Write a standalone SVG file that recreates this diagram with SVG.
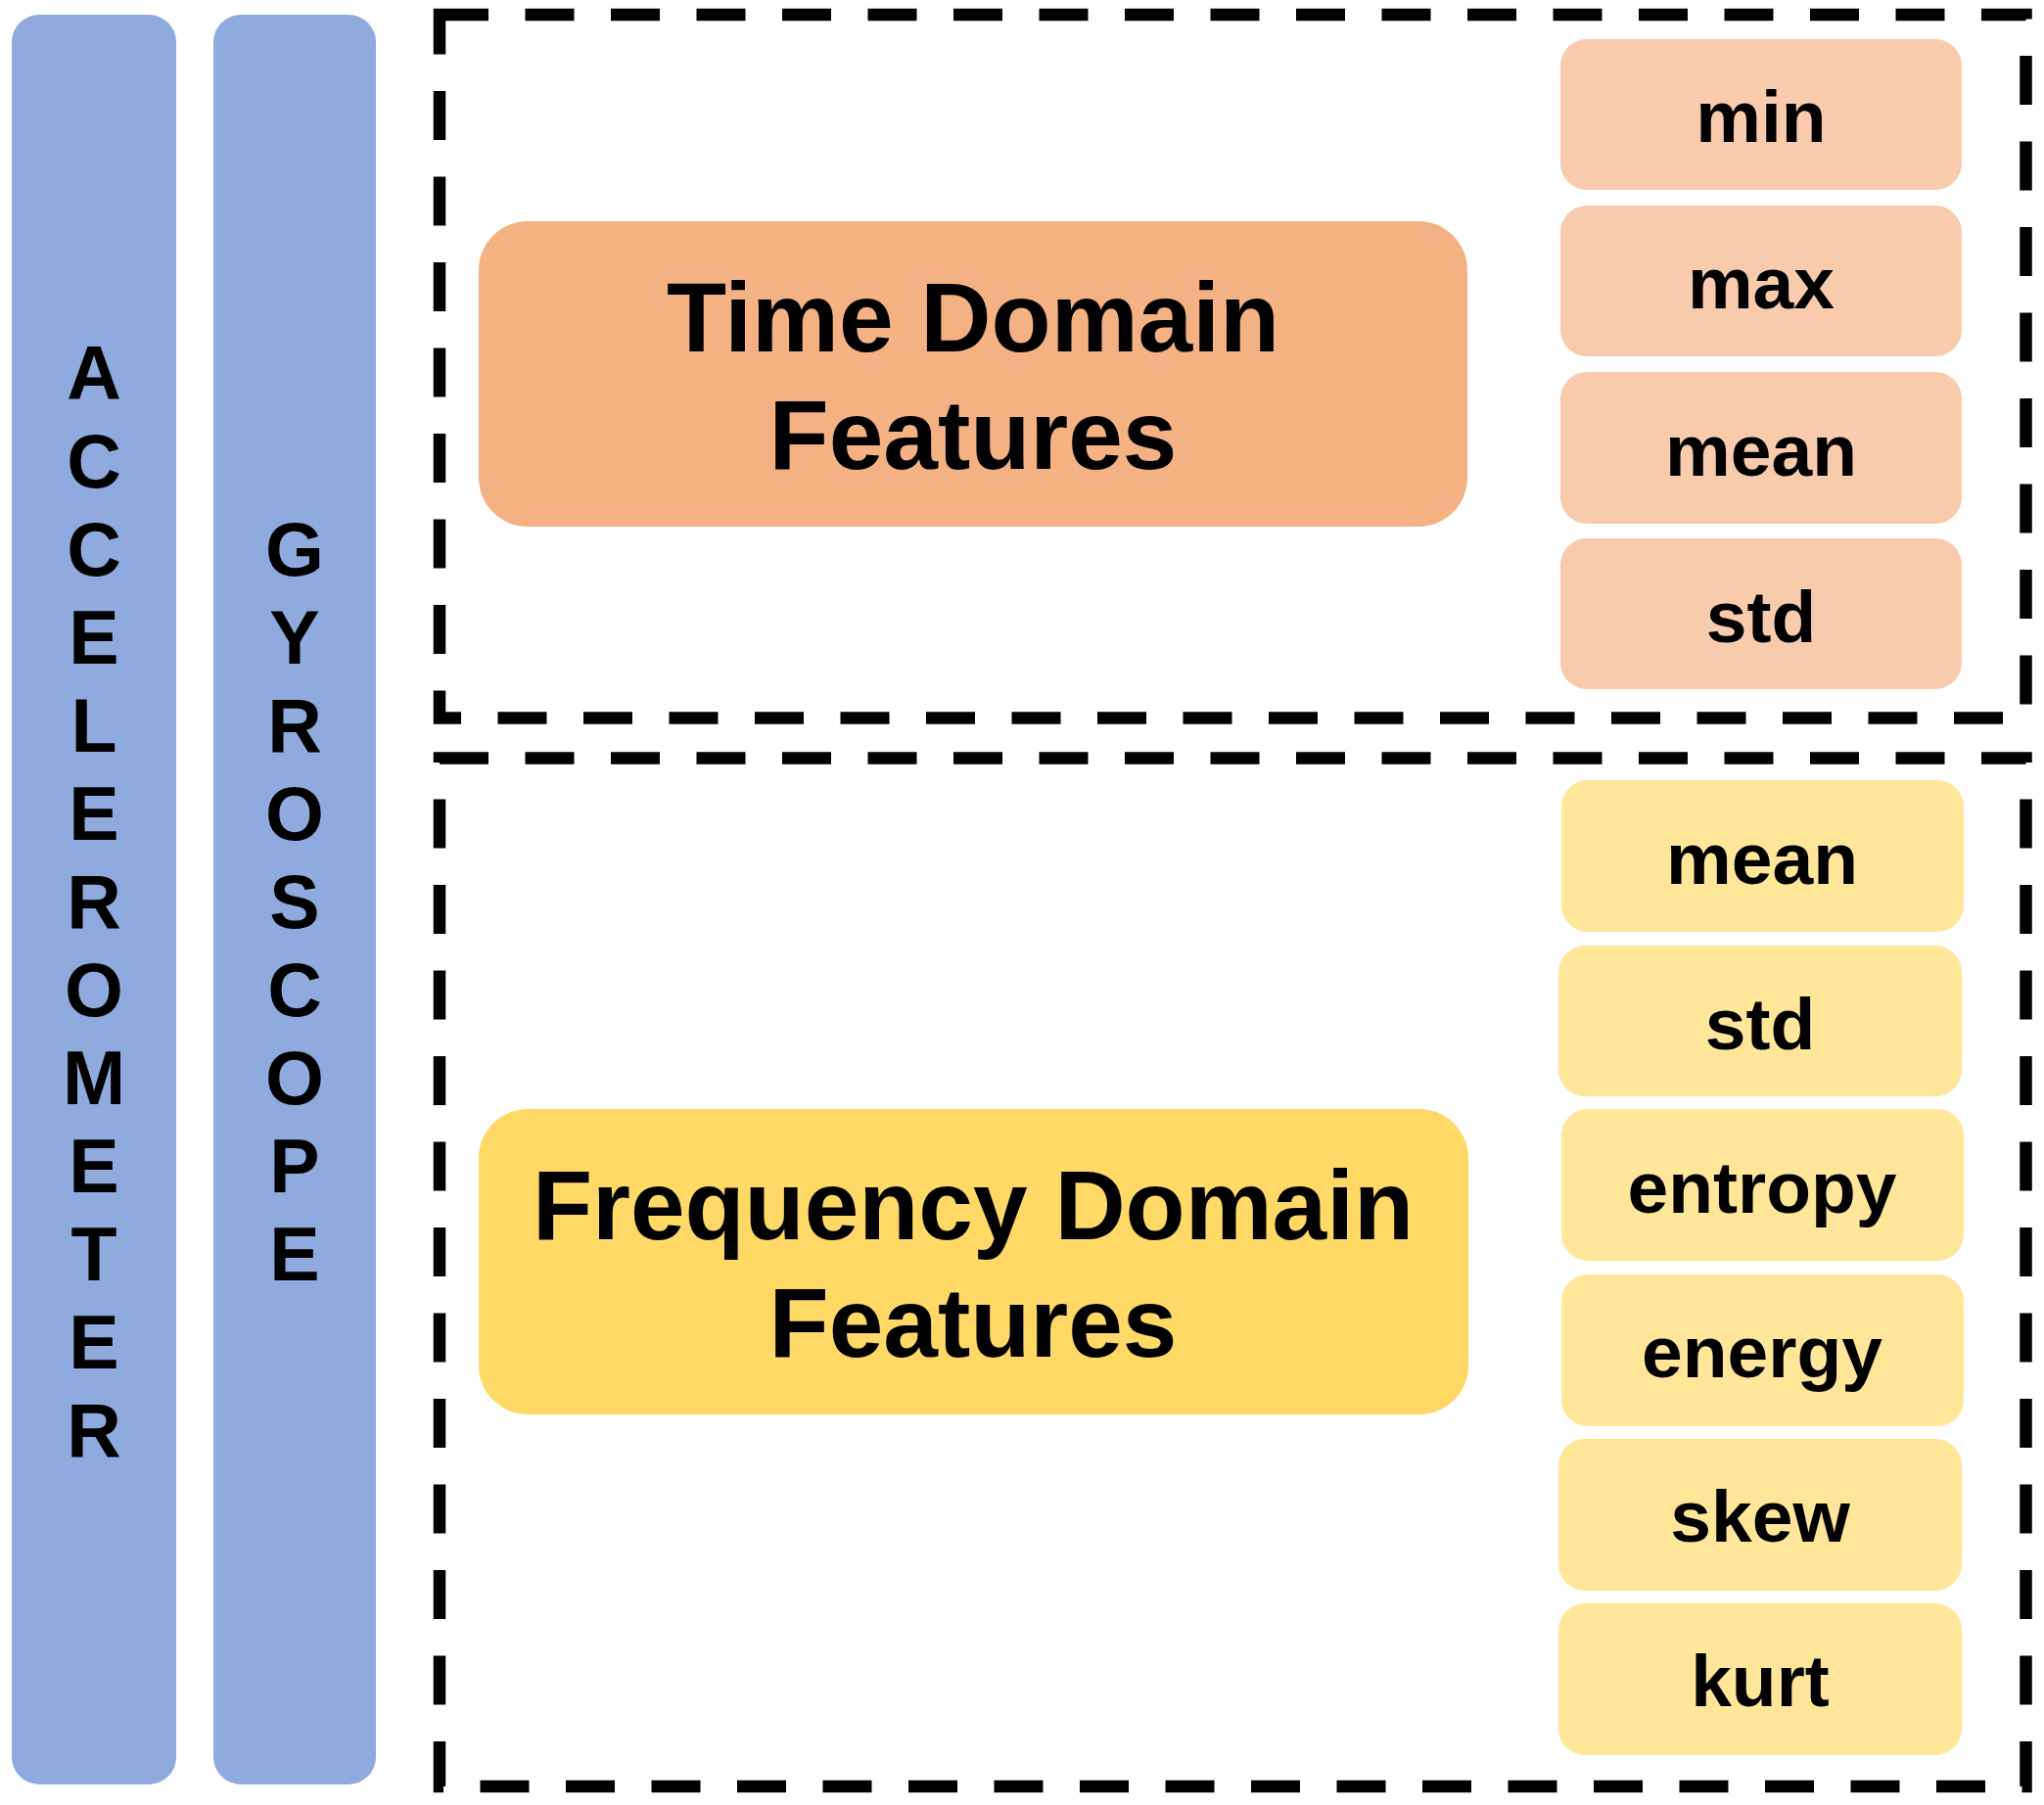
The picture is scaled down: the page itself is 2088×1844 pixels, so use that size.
<svg xmlns="http://www.w3.org/2000/svg" width="2088" height="1844" viewBox="0 0 2088 1844">
  <style>
    .sensor { fill: #8FAADC; }
    .big-time { fill: #F4B183; }
    .small-time { fill: #F8CBAD; }
    .big-freq { fill: #FFD966; }
    .small-freq { fill: #FFE699; }
    .frame { fill: none; stroke: #000000; stroke-width: 12.5; stroke-dasharray: 50 37.5; stroke-linejoin: miter; stroke-linecap: butt; }
    text { font-family: "Liberation Sans", Arial, sans-serif; font-weight: bold; fill: #000000; text-anchor: middle; }
    .vert { font-size: 77px; }
    .big { font-size: 100px; }
    .small { font-size: 75px; }
  </style>
  <rect x="0" y="0" width="2088" height="1844" fill="#FFFFFF"/>

  <g id="accelerometer">
    <rect class="sensor" x="12" y="15" width="168" height="1808" rx="28" ry="28"/>
    <text class="vert" x="96" y="408">A</text>
    <text class="vert" x="96" y="498">C</text>
    <text class="vert" x="96" y="588">C</text>
    <text class="vert" x="96" y="678">E</text>
    <text class="vert" x="96" y="768">L</text>
    <text class="vert" x="96" y="858">E</text>
    <text class="vert" x="96" y="948">R</text>
    <text class="vert" x="96" y="1038">O</text>
    <text class="vert" x="96" y="1128">M</text>
    <text class="vert" x="96" y="1218">E</text>
    <text class="vert" x="96" y="1308">T</text>
    <text class="vert" x="96" y="1398">E</text>
    <text class="vert" x="96" y="1488">R</text>
  </g>

  <g id="gyroscope">
    <rect class="sensor" x="218" y="15" width="166" height="1808" rx="28" ry="28"/>
    <text class="vert" x="301" y="588">G</text>
    <text class="vert" x="301" y="678">Y</text>
    <text class="vert" x="301" y="768">R</text>
    <text class="vert" x="301" y="858">O</text>
    <text class="vert" x="301" y="948">S</text>
    <text class="vert" x="301" y="1038">C</text>
    <text class="vert" x="301" y="1128">O</text>
    <text class="vert" x="301" y="1218">P</text>
    <text class="vert" x="301" y="1308">E</text>
  </g>

  <g id="frames">
    <path id="time-frame" class="frame" d="M449 15 H2069.5 V733.5 H449 Z"/>
    <path id="freq-frame" class="frame" d="M449 774.5 H2069.5 V1825 H449 Z"/>
  </g>

  <g id="time-domain">
    <rect class="big-time" x="489" y="226" width="1010" height="312" rx="50" ry="50"/>
    <text class="big" x="994" y="359">Time Domain</text>
    <text class="big" x="994" y="479">Features</text>
  </g>

  <g id="td-min">
    <rect class="small-time" x="1594" y="40" width="410" height="154" rx="27" ry="27"/>
    <text class="small" x="1799" y="145">min</text>
  </g>
  <g id="td-max">
    <rect class="small-time" x="1594" y="210" width="410" height="154" rx="27" ry="27"/>
    <text class="small" x="1799" y="315">max</text>
  </g>
  <g id="td-mean">
    <rect class="small-time" x="1594" y="380" width="410" height="155" rx="27" ry="27"/>
    <text class="small" x="1799" y="486">mean</text>
  </g>
  <g id="td-std">
    <rect class="small-time" x="1594" y="550" width="410" height="154" rx="27" ry="27"/>
    <text class="small" x="1799" y="656">std</text>
  </g>

  <g id="frequency-domain">
    <rect class="big-freq" x="489" y="1133" width="1011" height="312" rx="50" ry="50"/>
    <text class="big" x="994" y="1266">Frequency Domain</text>
    <text class="big" x="994" y="1386">Features</text>
  </g>

  <g id="fd-mean">
    <rect class="small-freq" x="1595" y="797" width="411" height="155" rx="27" ry="27"/>
    <text class="small" x="1800" y="903">mean</text>
  </g>
  <g id="fd-std">
    <rect class="small-freq" x="1592" y="966" width="412" height="154" rx="27" ry="27"/>
    <text class="small" x="1798" y="1072">std</text>
  </g>
  <g id="fd-entropy">
    <rect class="small-freq" x="1595" y="1133" width="411" height="155" rx="27" ry="27"/>
    <text class="small" x="1800" y="1239">entropy</text>
  </g>
  <g id="fd-energy">
    <rect class="small-freq" x="1595" y="1302" width="411" height="155" rx="27" ry="27"/>
    <text class="small" x="1800" y="1407">energy</text>
  </g>
  <g id="fd-skew">
    <rect class="small-freq" x="1592" y="1470" width="412" height="155" rx="27" ry="27"/>
    <text class="small" x="1798" y="1575">skew</text>
  </g>
  <g id="fd-kurt">
    <rect class="small-freq" x="1592" y="1638" width="412" height="155" rx="27" ry="27"/>
    <text class="small" x="1798" y="1743">kurt</text>
  </g>
</svg>
